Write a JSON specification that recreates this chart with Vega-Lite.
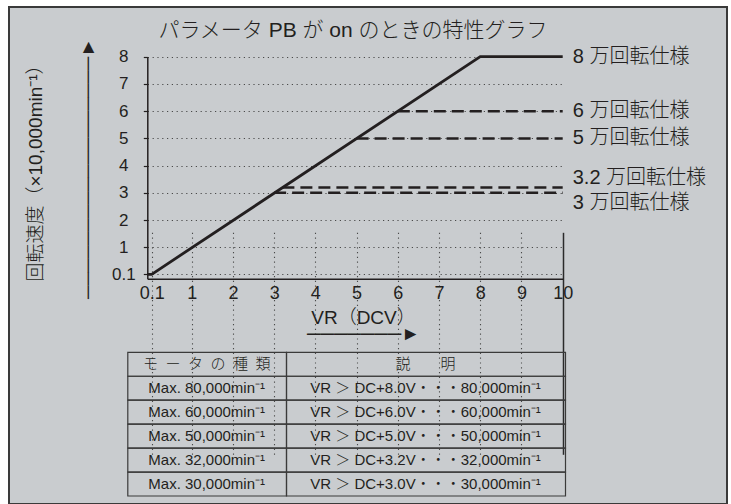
{
  "$schema": "https://vega.github.io/schema/vega-lite/v6.json",
  "width": 718,
  "height": 497,
  "autosize": {"type": "none"},
  "padding": {"left": 9, "top": 7, "right": 4, "bottom": 0},
  "background": "white",
  "view": {"fill": "#c9cccf", "stroke": "#3a3a3a", "strokeWidth": 2},
  "config": {
    "view": {"fill": "#c9cccf", "stroke": "#3a3a3a", "strokeWidth": 2},
    "font": "Liberation Sans, Noto Sans CJK JP",
    "text": {"font": "Liberation Sans, Noto Sans CJK JP", "color": "#231f20"}
  },
  "title": {
    "text": "パラメータ PB が on のときの特性グラフ",
    "anchor": "middle",
    "frame": "group",
    "orient": "top",
    "offset": -45,
    "baseline": "middle",
    "fontSize": 21,
    "fontWeight": 300,
    "font": "Liberation Sans, Noto Sans CJK JP",
    "color": "#231f20",
    "dx": -15
  },
  "datasets": {
    "solid": [
      {"x": 0, "y": 0.1}, {"x": 0.1, "y": 0.1}, {"x": 8, "y": 8}, {"x": 10, "y": 8}
    ],
    "dashed": [
      {"s": "6", "x": 6, "y": 6}, {"s": "6", "x": 10, "y": 6},
      {"s": "5", "x": 5, "y": 5}, {"s": "5", "x": 10, "y": 5},
      {"s": "3.2", "x": 3.2, "y": 3.2}, {"s": "3.2", "x": 10, "y": 3.2},
      {"s": "3", "x": 3, "y": 3}, {"s": "3", "x": 10, "y": 3}
    ],
    "labels": [
      {"label": "8 万回転仕様", "y": 8},
      {"label": "6 万回転仕様", "y": 6},
      {"label": "5 万回転仕様", "y": 5},
      {"label": "3.2 万回転仕様", "y": 3.2},
      {"label": "3 万回転仕様", "y": 3}
    ],
    "table": [
      {"row": 0, "col": 0, "text": "モ\u2002ー\u2002タ\u2002の\u2002種\u2002類"},
      {"row": 0, "col": 1, "text": "説　　明"},
      {"row": 1, "col": 0, "text": "Max. 80,000min⁻¹"},
      {"row": 1, "col": 1, "text": "VR ＞ DC+8.0V・・・80,000min⁻¹"},
      {"row": 2, "col": 0, "text": "Max. 60,000min⁻¹"},
      {"row": 2, "col": 1, "text": "VR ＞ DC+6.0V・・・60,000min⁻¹"},
      {"row": 3, "col": 0, "text": "Max. 50,000min⁻¹"},
      {"row": 3, "col": 1, "text": "VR ＞ DC+5.0V・・・50,000min⁻¹"},
      {"row": 4, "col": 0, "text": "Max. 32,000min⁻¹"},
      {"row": 4, "col": 1, "text": "VR ＞ DC+3.2V・・・32,000min⁻¹"},
      {"row": 5, "col": 0, "text": "Max. 30,000min⁻¹"},
      {"row": 5, "col": 1, "text": "VR ＞ DC+3.0V・・・30,000min⁻¹"}
    ]
  },
  "layer": [
    {
      "layer": [
        {
          "data": {"name": "solid"},
          "mark": {"type": "line", "color": "#231f20", "strokeWidth": 2.8},
          "encoding": {
            "x": {
              "field": "x",
              "type": "quantitative",
              "scale": {"domain": [0, 0.1, 1, 10], "range": [138.3, 142.7, 182.7, 553.7], "zero": false, "nice": false},
              "axis": {
                "orient": "bottom",
                "offset": -225.3,
                "values": [0.1, 1, 2, 3, 4, 5, 6, 7, 8, 9, 10],
                "format": ".1~f",
                "labelFlush": false,
                "labelOverlap": false,
                "labelFontSize": 18,
                "labelFont": "Liberation Sans",
                "labelColor": "#231f20",
                "labelPadding": 15,
                "labelBaseline": "middle",
                "ticks": false,
                "domainColor": "#231f20",
                "domainWidth": 1.5,
                "grid": true,
                "gridColor": {"condition": {"test": "datum.value === 10", "value": "#2a2a2a"}, "value": "#4a4a4a"},
                "gridDash": {"condition": {"test": "datum.value === 10", "value": []}, "value": [1.2, 3.6]},
                "gridWidth": {"condition": {"test": "datum.value === 10", "value": 1.5}, "value": 1.1},
                "gridOpacity": 1,
                "title": ["VR（DCV）", " ───────►"],
                "titleX": 354,
                "titleY": 39,
                "titleAlign": "center",
                "titleBaseline": "middle",
                "titleLineHeight": 16,
                "titleFontSize": 19,
                "titleFontWeight": 300,
                "titleFont": "Liberation Sans, Noto Sans CJK JP",
                "titleColor": "#231f20"
              }
            },
            "y": {
              "field": "y",
              "type": "quantitative",
              "scale": {"domain": [0, 0.1, 1, 8], "range": [271.7, 267.3, 240.3, 49.7], "zero": false, "nice": false},
              "axis": {
                "orient": "left",
                "offset": -138.3,
                "values": [0.1, 1, 2, 3, 4, 5, 6, 7, 8],
                "format": ".1~f",
                "labelFlush": false,
                "labelOverlap": false,
                "labelFontSize": 17,
                "labelFont": "Liberation Sans",
                "labelColor": "#231f20",
                "labelAlign": "center",
                "labelBaseline": "middle",
                "labelPadding": 20,
                "tickSize": 4,
                "tickColor": "#231f20",
                "tickWidth": 1.2,
                "domainColor": "#231f20",
                "domainWidth": 1.5,
                "grid": true,
                "gridColor": "#4a4a4a",
                "gridDash": [1.2, 3.6],
                "gridWidth": 1.1,
                "gridOpacity": 1,
                "title": ["　回転速度（×10,000min⁻¹）", "──────────────────►"],
                "titleAngle": -90,
                "titleX": -112.3,
                "titleY": 161,
                "titleAlign": "center",
                "titleBaseline": "middle",
                "titleLineHeight": 52,
                "titleFontSize": 19,
                "titleFontWeight": 300,
                "titleFont": "Liberation Sans, Noto Sans CJK JP",
                "titleColor": "#231f20"
              }
            }
          }
        },
        {
          "data": {"name": "dashed"},
          "mark": {"type": "line", "color": "#231f20", "strokeWidth": 2.5, "strokeDash": [12, 6]},
          "encoding": {
            "x": {"field": "x", "type": "quantitative"},
            "y": {"field": "y", "type": "quantitative"},
            "detail": {"field": "s"}
          }
        },
        {
          "data": {"name": "labels"},
          "transform": [{"filter": "datum.y >= 5"}],
          "mark": {"type": "text", "align": "left", "baseline": "middle", "dx": 10, "fontSize": 20, "fontWeight": 300},
          "encoding": {
            "x": {"datum": 10, "type": "quantitative"},
            "y": {"field": "y", "type": "quantitative"},
            "text": {"field": "label"}
          }
        },
        {
          "data": {"name": "labels"},
          "transform": [{"filter": "datum.y == 3.2"}],
          "mark": {"type": "text", "align": "left", "baseline": "middle", "dx": 10, "dy": -9, "fontSize": 20, "fontWeight": 300},
          "encoding": {
            "x": {"datum": 10, "type": "quantitative"},
            "y": {"field": "y", "type": "quantitative"},
            "text": {"field": "label"}
          }
        },
        {
          "data": {"name": "labels"},
          "transform": [{"filter": "datum.y == 3"}],
          "mark": {"type": "text", "align": "left", "baseline": "middle", "dx": 10, "dy": 10.5, "fontSize": 20, "fontWeight": 300},
          "encoding": {
            "x": {"datum": 10, "type": "quantitative"},
            "y": {"field": "y", "type": "quantitative"},
            "text": {"field": "label"}
          }
        }
      ]
    },
    {
      "data": {"name": "table"},
      "layer": [
        {
          "mark": {"type": "rect", "fillOpacity": 0, "stroke": "#3a3a3a", "strokeWidth": 1.2},
          "encoding": {
            "x": {
              "field": "col",
              "type": "quantitative",
              "bin": {"step": 1, "extent": [0, 2]},
              "scale": {"domain": [0, 1, 2], "range": [118.3, 277, 556], "zero": false, "nice": false},
              "axis": null
            },
            "y": {
              "field": "row",
              "type": "ordinal",
              "scale": {"range": [345.3, 489], "paddingInner": 0, "paddingOuter": 0},
              "axis": null
            }
          }
        },
        {
          "mark": {"type": "text", "align": "center", "baseline": "middle", "fontSize": 15, "fontWeight": 300},
          "encoding": {
            "x": {"field": "col", "type": "quantitative", "bin": {"step": 1, "extent": [0, 2]}},
            "y": {"field": "row", "type": "ordinal"},
            "text": {"field": "text"}
          }
        }
      ]
    }
  ],
  "resolve": {"scale": {"x": "independent", "y": "independent"}}
}
